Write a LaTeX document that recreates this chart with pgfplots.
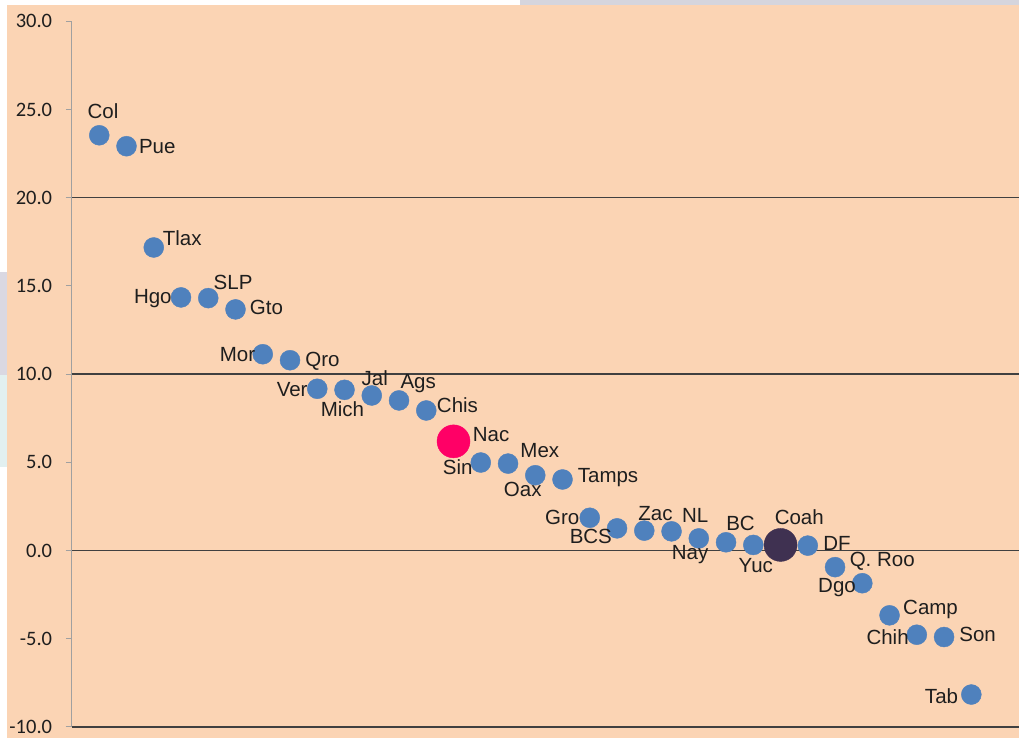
\documentclass[border=0pt]{standalone}
\usepackage{pgfplots}
\usepackage{pgfplotstable}
\pgfplotsset{compat=1.18}
\usepackage{fontspec}
\setmainfont{Liberation Sans}
\newfontfamily\carlito{Carlito}
\definecolor{peach}{HTML}{FBD4B4}
\definecolor{ptblue}{HTML}{4F81BD}
\definecolor{nacpink}{HTML}{FF0066}
\definecolor{coahdark}{HTML}{3F3151}
\definecolor{gridc}{HTML}{404040}
\definecolor{axgray}{HTML}{A0A0A0}
\definecolor{txt}{HTML}{1E1E1E}
\definecolor{topgray}{HTML}{D5D5DD}
\definecolor{lavgray}{HTML}{DAD8E2}
\definecolor{lcyan}{HTML}{E2F0F0}

\pgfplotstableread[col sep=comma]{
x,y,dx,dy,lab
1,23.54,3.7,16.7,Col
2,22.92,30.8,-7.3,Pue
3,17.18,28.5,1.6,Tlax
4,14.35,-28.2,-6,Hgo
5,14.31,24.8,9,SLP
6,13.67,31,-5.4,Gto
7,11.13,-25.2,-7,Mor
8,10.79,32.5,-6,Qro
9,9.17,-25.1,-7.3,Ver
10,9.11,-2.1,-26.3,Mich
11,8.79,3,10,Jal
12,8.51,19.2,11.7,Ags
13,7.94,31.2,-2.3,Chis
14,6.19,37.5,-0.6,Nac
15,4.99,-23,-11.7,Sin
16,4.93,31.8,6,Mex
17,4.27,-12.5,-21.6,Oax
18,4.03,45.5,-3,Tamps
19,1.86,-27.5,-6.7,Gro
20,1.26,-26.2,-15,BCS
21,1.13,11.2,10.6,Zac
22,1.09,23.7,8.7,NL
23,0.69,-8.7,-21,Nay
24,0.47,14.5,11.7,BC
25,0.32,2.5,-27.3,Yuc
26,0.32,18.7,20,Coah
27,0.28,29.3,-4.4,DF
28,-0.94,47.2,0.7,Q. Roo
29,-1.85,-25.3,-9.3,Dgo
30,-3.67,41,0.6,Camp
31,-4.77,-29.2,-10,Chih
32,-4.90,33.5,-4.3,Son
33,-8.16,-29.8,-9,Tab
}\labs

\pgfplotstableread[col sep=comma]{
x,y
14,6.19
}\nac

\pgfplotstableread[col sep=comma]{
x,y
26,0.32
}\coah

\begin{document}
\begin{tikzpicture}
% page background and screenshot edges
\fill[white] (-72pt,-11pt) rectangle (947pt,727pt);
\fill[peach] (-65pt,-11pt) rectangle (947pt,722pt);
\fill[topgray] (448pt,722pt) rectangle (947pt,727pt);
\fill[lavgray] (-72pt,352pt) rectangle (-65pt,455pt);
\fill[lcyan] (-72pt,260pt) rectangle (-65pt,352pt);
\begin{axis}[
  scale only axis,
  width=947pt, height=705.7pt,
  xmin=0, xmax=34.75,
  ymin=-10, ymax=30,
  axis x line=none,
  axis y line*=left,
  y axis line style={axgray, line width=1pt},
  xtick=\empty,
  ytick={-10,-5,...,30},
  y tick label style={/pgf/number format/fixed, /pgf/number format/fixed zerofill, /pgf/number format/precision=1, /pgf/number format/assume math mode=true,
    font=\carlito\fontsize{20.5}{24}\selectfont, text=txt, inner sep=0pt, xshift=-13.7pt},
  tick align=outside,
  major tick length=6pt,
  y tick style={axgray, line width=1pt},
  extra y ticks={-10,0,10,20},
  extra y tick labels={},
  extra y tick style={grid=major, major grid style={gridc, line width=1.3pt}, tick style={gridc, line width=1.3pt}},
  clip=false,
]
\addplot[only marks, mark=*, mark size=10pt, color=ptblue, mark options={draw=ptblue, fill=ptblue},
  skip coords between index={13}{14}, skip coords between index={25}{26}]
  table[x=x, y=y] {\labs};
\addplot[only marks, mark=*, mark size=16.5pt, mark options={draw=nacpink, fill=nacpink}]
  table[x=x, y=y] {\nac};
\addplot[only marks, mark=*, mark size=16.5pt, mark options={draw=coahdark, fill=coahdark}]
  table[x=x, y=y] {\coah};
\addplot[draw=none, mark=none, nodes near coords, point meta=explicit symbolic,
  visualization depends on={\thisrow{dx} \as \lx},
  visualization depends on={\thisrow{dy} \as \ly},
  every node near coord/.append style={anchor=base, xshift=\lx pt, yshift=\ly pt,
     font=\fontsize{20.5}{24}\selectfont, text=txt, inner sep=0pt}]
  table[x=x, y=y, meta=lab] {\labs};
\end{axis}
\pgfresetboundingbox
\useasboundingbox (-72pt,-11pt) rectangle (947pt,727pt);
\end{tikzpicture}
\end{document}
